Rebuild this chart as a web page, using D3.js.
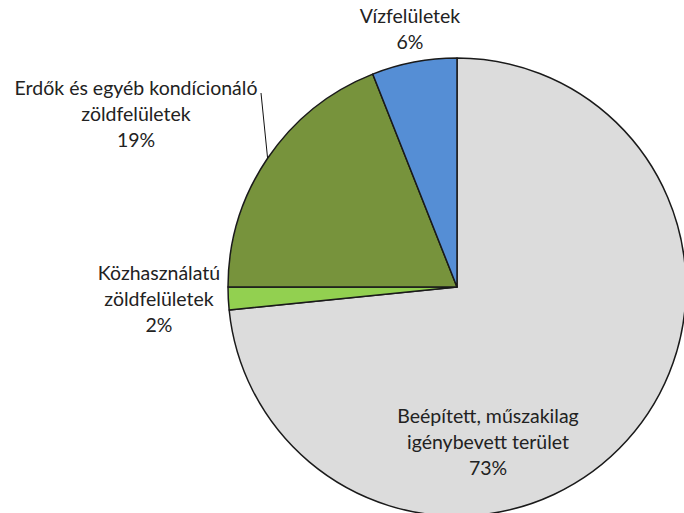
<!DOCTYPE html>
<html>
<head>
<meta charset="utf-8">
<script src="https://cdn.jsdelivr.net/npm/d3@7"></script>
<style>
  html, body { margin: 0; padding: 0; background: #fff; }
  svg { display: block; }
  text { font-family: Lato, "Open Sans", sans-serif; fill: #222; }
</style>
</head>
<body>
<svg id="chart" width="684" height="513"></svg>
<script>
// Data (clockwise from 12 o'clock)
const categories = [
  "Beépített, műszakilag igénybevett terület",
  "Közhasználatú zöldfelületek",
  "Erdők és egyéb kondícionáló zöldfelületek",
  "Vízfelületek"
];
const values = [73.4, 1.6, 19.0, 6.0];
const labelLines = [
  ["Beépített, műszakilag", "igénybevett terület"],
  ["Közhasználatú", "zöldfelületek"],
  ["Erdők és egyéb kondícionáló", "zöldfelületek"],
  ["Vízfelületek"]
];
const colors = ["#dcdcdc", "#92d050", "#77933c", "#558ed5"];

// Layout
const W = 684, H = 513;
const cx = 457, cy = 287, R = 229;
// label anchors relative to pie center (dx, dy of the first line's baseline)
const labelAnchors = [
  {dx: 31, dy: 136},
  {dx: -298, dy: -7},
  {dx: -321, dy: -192},
  {dx: -47, dy: -264}
];
const lineH = 26;

const svg = d3.select("#chart");
const g = svg.append("g").attr("transform", `translate(${cx},${cy})`);

const pie = d3.pie().sort(null).value(d => d)(values);
const arc = d3.arc().innerRadius(0).outerRadius(R);

g.selectAll("path.slice")
  .data(pie)
  .join("path")
  .attr("class", "slice")
  .attr("d", arc)
  .attr("fill", (d, i) => colors[i])
  .attr("stroke", "#1a1a1a")
  .attr("stroke-width", 1.5)
  .attr("stroke-linejoin", "round");

// leader line for the forest slice
const edgeArc = d3.arc().innerRadius(R).outerRadius(R);
const fi = 2;
const pEdge = edgeArc.centroid(pie[fi]);
g.append("line")
  .attr("x1", pEdge[0]).attr("y1", pEdge[1])
  .attr("x2", labelAnchors[fi].dx + 125).attr("y2", labelAnchors[fi].dy - 2)
  .attr("stroke", "#111").attr("stroke-width", 1);

// labels
pie.forEach((d, i) => {
  const lines = labelLines[i].concat([Math.round(values[i]) + "%"]);
  const t = g.append("text")
    .attr("text-anchor", "middle")
    .attr("font-size", 19.5);
  lines.forEach((ln, k) => {
    t.append("tspan")
      .attr("x", labelAnchors[i].dx)
      .attr("y", labelAnchors[i].dy + k * lineH)
      .text(ln);
  });
});
</script>
</body>
</html>
